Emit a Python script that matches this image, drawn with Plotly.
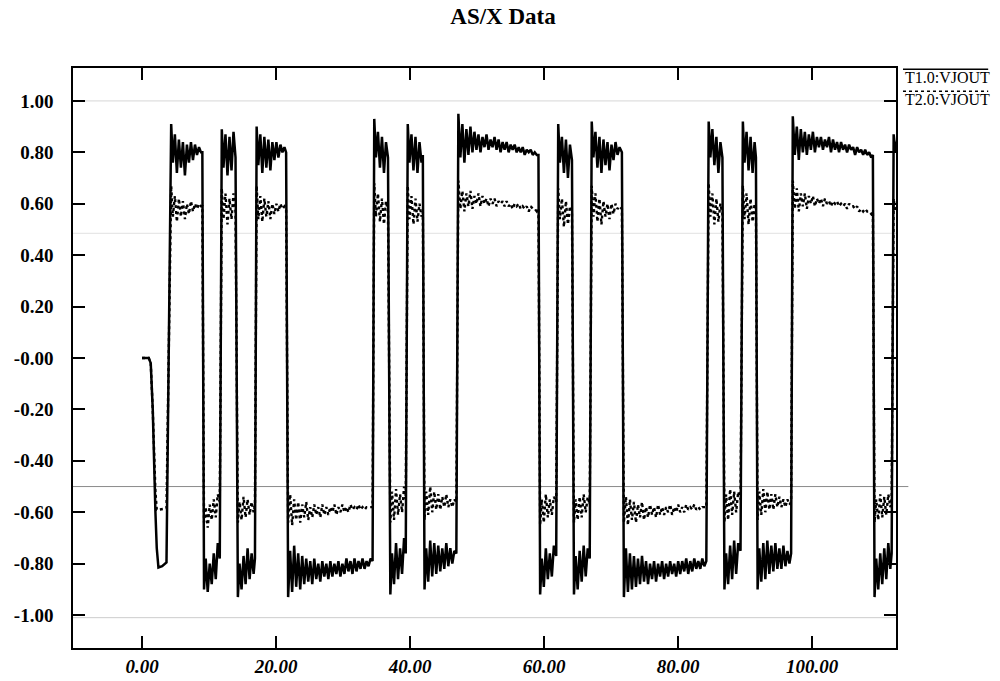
import plotly.graph_objects as go

# ---------------- data ----------------
# time axis (ns-like units) and two waveforms: T1.0:VJOUT (solid), T2.0:VJOUT (dotted)
t = [
    0, 1.0, 1.3, 1.6, 2.0, 2.2, 2.45, 3.0, 3.65,
    4.35, 4.6, 4.9, 5.2, 5.5, 5.8, 6.1, 6.4, 6.7, 7.0, 7.3, 7.6, 7.9, 8.2, 8.5, 8.8, 9.0,
    9.25, 9.5, 9.8, 10.1, 10.4, 10.7, 11.0, 11.3, 11.6,
    11.9, 12.15, 12.45, 12.75, 13.05, 13.35, 13.65, 13.95,
    14.3, 14.55, 14.85, 15.15, 15.45, 15.75, 16.05, 16.35, 16.65, 16.85,
    17.1, 17.35, 17.65, 17.95, 18.25, 18.55, 18.85, 19.15, 19.45, 19.75, 20.05, 20.35, 20.65, 20.95, 21.25, 21.5,
    21.8, 22.1, 22.4, 22.7, 23.0, 23.3, 23.6, 23.9, 24.2, 24.5, 24.8, 25.1, 25.4, 25.7, 26.0, 26.3, 26.6, 26.9,
    27.2, 27.5, 27.8, 28.1, 28.4, 28.7, 29.0, 29.3, 29.6, 29.9, 30.2, 30.5, 30.8, 31.1, 31.4, 31.7, 32.0, 32.3,
    32.6, 32.9, 33.2, 33.5, 33.8, 34.1, 34.4,
    34.65, 34.9, 35.2, 35.5, 35.8, 36.1, 36.4, 36.7,
    37.05, 37.3, 37.6, 37.9, 38.2, 38.5, 38.8, 39.1, 39.35,
    39.65, 39.9, 40.2, 40.5, 40.8, 41.1, 41.4, 41.7, 41.9,
    42.15, 42.4, 42.7, 43.0, 43.3, 43.6, 43.9, 44.2, 44.5, 44.8, 45.1, 45.4, 45.7, 46.0, 46.3, 46.6, 46.9,
    47.2, 47.5, 47.8, 48.1, 48.4, 48.7, 49.0, 49.3, 49.6, 49.9, 50.2, 50.5, 50.8, 51.1, 51.4, 51.7, 52.0, 52.3,
    52.6, 52.9, 53.2, 53.5, 53.8, 54.1, 54.4, 54.7, 55.0, 55.3, 55.6, 55.9, 56.2, 56.5, 56.8, 57.1, 57.4, 57.7,
    58.0, 58.3, 58.6, 58.9, 59.15,
    59.4, 59.65, 59.95, 60.25, 60.55, 60.85, 61.15, 61.45, 61.8,
    62.1, 62.35, 62.65, 62.95, 63.25, 63.55, 63.85, 64.15,
    64.45, 64.7, 65.0, 65.3, 65.6, 65.9, 66.2, 66.5, 66.8,
    67.1, 67.35, 67.65, 67.95, 68.25, 68.55, 68.85, 69.15, 69.45, 69.75, 70.05, 70.35, 70.65, 70.95, 71.25, 71.6,
    71.9, 72.2, 72.5, 72.8, 73.1, 73.4, 73.7, 74.0, 74.3, 74.6, 74.9, 75.2, 75.5, 75.8, 76.1, 76.4, 76.7, 77.0,
    77.3, 77.6, 77.9, 78.2, 78.5, 78.8, 79.1, 79.4, 79.7, 80.0, 80.3, 80.6, 80.9, 81.2, 81.5, 81.8, 82.1, 82.4,
    82.7, 83.0, 83.3, 83.6, 83.9, 84.2,
    84.55, 84.8, 85.1, 85.4, 85.7, 86.0, 86.3, 86.6,
    86.9, 87.15, 87.45, 87.75, 88.05, 88.35, 88.65, 88.95, 89.3,
    89.65, 89.9, 90.2, 90.5, 90.8, 91.1, 91.4, 91.6,
    91.85, 92.1, 92.4, 92.7, 93.0, 93.3, 93.6, 93.9, 94.2, 94.5, 94.8, 95.1, 95.4, 95.7, 96.0, 96.3, 96.6, 96.85,
    97.1, 97.4, 97.7, 98.0, 98.3, 98.6, 98.9, 99.2, 99.5, 99.8, 100.1, 100.4, 100.7, 101.0, 101.3, 101.6, 101.9,
    102.2, 102.5, 102.8, 103.1, 103.4, 103.7, 104.0, 104.3, 104.6, 104.9, 105.2, 105.5, 105.8, 106.1, 106.4,
    106.7, 107.0, 107.3, 107.6, 107.9, 108.2, 108.5, 108.8, 109.05,
    109.3, 109.55, 109.85, 110.15, 110.45, 110.75, 111.05, 111.35, 111.65, 111.85,
    112.15, 112.4, 112.7,
]

t1_vjout = [
    0, 0, -0.02, -0.2, -0.6, -0.74, -0.815, -0.81, -0.795,
    0.91, 0.76, 0.87, 0.72, 0.85, 0.74, 0.84, 0.71, 0.83, 0.76, 0.84, 0.77, 0.83, 0.79, 0.82, 0.80, 0.80,
    -0.90, -0.78, -0.91, -0.80, -0.88, -0.76, -0.86, -0.72, -0.78,
    0.89, 0.74, 0.87, 0.71, 0.86, 0.73, 0.88, 0.78,
    -0.93, -0.80, -0.90, -0.77, -0.88, -0.74, -0.86, -0.76, -0.84, -0.78,
    0.90, 0.75, 0.87, 0.72, 0.86, 0.74, 0.85, 0.73, 0.84, 0.77, 0.84, 0.78, 0.83, 0.80, 0.82, 0.80,
    -0.93, -0.75, -0.91, -0.73, -0.89, -0.76, -0.90, -0.77, -0.88, -0.78, -0.87, -0.79, -0.88, -0.78, -0.86,
    -0.80, -0.87, -0.79, -0.85, -0.80, -0.86, -0.79, -0.85, -0.80, -0.84, -0.79, -0.85, -0.80, -0.84, -0.78,
    -0.83, -0.79, -0.84, -0.78, -0.83, -0.79, -0.82, -0.78, -0.82, -0.79, -0.81, -0.78, -0.79,
    0.93, 0.78, 0.88, 0.74, 0.86, 0.72, 0.84, 0.78,
    -0.92, -0.76, -0.88, -0.72, -0.86, -0.74, -0.84, -0.70, -0.76,
    0.91, 0.76, 0.87, 0.73, 0.86, 0.72, 0.84, 0.76, 0.79,
    -0.90, -0.74, -0.87, -0.71, -0.85, -0.72, -0.84, -0.73, -0.83, -0.74, -0.82, -0.72, -0.81, -0.74, -0.80, -0.75, -0.76,
    0.95, 0.78, 0.91, 0.76, 0.89, 0.79, 0.90, 0.80, 0.88, 0.81, 0.87, 0.80, 0.86, 0.82, 0.87, 0.81, 0.85, 0.82,
    0.86, 0.81, 0.85, 0.80, 0.84, 0.81, 0.84, 0.80, 0.83, 0.81, 0.83, 0.80, 0.82, 0.80, 0.82, 0.79, 0.81, 0.80,
    0.81, 0.79, 0.80, 0.79, 0.79,
    -0.92, -0.78, -0.89, -0.74, -0.86, -0.76, -0.85, -0.73, -0.77,
    0.91, 0.76, 0.86, 0.72, 0.85, 0.70, 0.83, 0.77,
    -0.92, -0.77, -0.90, -0.75, -0.87, -0.73, -0.85, -0.74, -0.78,
    0.92, 0.78, 0.88, 0.74, 0.86, 0.72, 0.85, 0.75, 0.84, 0.73, 0.83, 0.77, 0.84, 0.79, 0.82, 0.80,
    -0.93, -0.74, -0.91, -0.76, -0.90, -0.77, -0.89, -0.78, -0.88, -0.77, -0.87, -0.79, -0.88, -0.80, -0.86,
    -0.79, -0.87, -0.80, -0.85, -0.79, -0.86, -0.80, -0.85, -0.79, -0.84, -0.80, -0.85, -0.79, -0.84, -0.79,
    -0.83, -0.78, -0.84, -0.79, -0.83, -0.78, -0.82, -0.79, -0.82, -0.78, -0.81, -0.79,
    0.92, 0.78, 0.89, 0.75, 0.86, 0.72, 0.84, 0.78,
    -0.90, -0.76, -0.88, -0.73, -0.86, -0.71, -0.84, -0.72, -0.75,
    0.92, 0.76, 0.88, 0.73, 0.86, 0.72, 0.84, 0.78,
    -0.90, -0.74, -0.87, -0.72, -0.86, -0.71, -0.84, -0.73, -0.83, -0.72, -0.82, -0.74, -0.82, -0.73, -0.81, -0.75, -0.80, -0.76,
    0.94, 0.79, 0.90, 0.77, 0.89, 0.80, 0.88, 0.79, 0.87, 0.81, 0.88, 0.80, 0.86, 0.82, 0.86, 0.81, 0.85, 0.82,
    0.86, 0.80, 0.85, 0.81, 0.84, 0.80, 0.84, 0.81, 0.83, 0.80, 0.83, 0.81, 0.82, 0.79, 0.82, 0.80, 0.81, 0.79,
    0.81, 0.79, 0.80, 0.78, 0.79,
    -0.93, -0.78, -0.90, -0.76, -0.88, -0.74, -0.86, -0.72, -0.82, -0.76,
    0.87, 0.80, 0.85,
]

t2_vjout = [
    0, 0, -0.02, -0.2, -0.52, -0.59, -0.59, -0.589, -0.585,
    0.67, 0.55, 0.63, 0.53, 0.62, 0.55, 0.61, 0.54, 0.60, 0.56, 0.61, 0.57, 0.60, 0.58, 0.60, 0.59, 0.59,
    -0.64, -0.58, -0.66, -0.57, -0.63, -0.55, -0.62, -0.53, -0.56,
    0.66, 0.54, 0.64, 0.52, 0.62, 0.54, 0.64, 0.57,
    -0.64, -0.56, -0.63, -0.54, -0.62, -0.55, -0.61, -0.56, -0.60, -0.57,
    0.67, 0.54, 0.63, 0.53, 0.62, 0.55, 0.61, 0.54, 0.60, 0.56, 0.60, 0.57, 0.60, 0.58, 0.59, 0.58,
    -0.64, -0.53, -0.65, -0.55, -0.63, -0.56, -0.64, -0.57, -0.62, -0.56, -0.63, -0.58, -0.62, -0.57, -0.61,
    -0.58, -0.62, -0.57, -0.61, -0.58, -0.61, -0.58, -0.60, -0.57, -0.61, -0.58, -0.60, -0.57, -0.60, -0.58,
    -0.60, -0.57, -0.59, -0.58, -0.59, -0.57, -0.59, -0.58, -0.59, -0.58, -0.58, -0.58, -0.58,
    0.68, 0.55, 0.64, 0.53, 0.62, 0.52, 0.61, 0.57,
    -0.64, -0.52, -0.63, -0.51, -0.61, -0.53, -0.60, -0.50, -0.55,
    0.67, 0.54, 0.63, 0.52, 0.62, 0.53, 0.60, 0.55, 0.57,
    -0.63, -0.52, -0.61, -0.50, -0.60, -0.52, -0.59, -0.53, -0.59, -0.54, -0.58, -0.53, -0.58, -0.55, -0.58, -0.55, -0.56,
    0.69, 0.58, 0.65, 0.57, 0.64, 0.59, 0.65, 0.58, 0.63, 0.60, 0.64, 0.59, 0.63, 0.60, 0.62, 0.59, 0.62, 0.60,
    0.62, 0.59, 0.61, 0.60, 0.61, 0.59, 0.61, 0.59, 0.60, 0.58, 0.60, 0.59, 0.60, 0.58, 0.59, 0.58, 0.59, 0.57,
    0.59, 0.58, 0.58, 0.57, 0.58,
    -0.65, -0.55, -0.64, -0.53, -0.62, -0.55, -0.61, -0.54, -0.56,
    0.66, 0.54, 0.62, 0.51, 0.61, 0.52, 0.59, 0.56,
    -0.64, -0.55, -0.63, -0.54, -0.62, -0.53, -0.60, -0.54, -0.57,
    0.67, 0.55, 0.64, 0.53, 0.62, 0.52, 0.61, 0.55, 0.60, 0.54, 0.60, 0.56, 0.60, 0.58, 0.59, 0.58,
    -0.64, -0.54, -0.65, -0.55, -0.63, -0.56, -0.64, -0.57, -0.62, -0.56, -0.63, -0.58, -0.62, -0.57, -0.61,
    -0.58, -0.62, -0.57, -0.61, -0.58, -0.61, -0.58, -0.60, -0.57, -0.61, -0.58, -0.60, -0.57, -0.60, -0.58,
    -0.60, -0.57, -0.59, -0.58, -0.59, -0.57, -0.59, -0.58, -0.59, -0.58, -0.58, -0.58,
    0.68, 0.55, 0.64, 0.52, 0.62, 0.53, 0.60, 0.56,
    -0.64, -0.53, -0.63, -0.51, -0.61, -0.52, -0.60, -0.52, -0.55,
    0.67, 0.54, 0.64, 0.52, 0.62, 0.53, 0.60, 0.56,
    -0.63, -0.52, -0.61, -0.51, -0.60, -0.52, -0.59, -0.53, -0.59, -0.53, -0.58, -0.54, -0.58, -0.55, -0.58, -0.55, -0.57, -0.56,
    0.69, 0.58, 0.66, 0.57, 0.64, 0.59, 0.64, 0.58, 0.63, 0.60, 0.63, 0.59, 0.62, 0.60, 0.62, 0.59, 0.62, 0.60,
    0.61, 0.59, 0.61, 0.60, 0.61, 0.59, 0.60, 0.59, 0.60, 0.58, 0.60, 0.59, 0.59, 0.58, 0.59, 0.57, 0.58, 0.57,
    0.58, 0.57, 0.57, 0.56, 0.57,
    -0.64, -0.55, -0.63, -0.53, -0.62, -0.54, -0.61, -0.53, -0.58, -0.56,
    0.62, 0.57, 0.60,
]

series_names = ["T1.0:VJOUT", "T2.0:VJOUT"]
x_tick_vals = [0, 20, 40, 60, 80, 100]
x_tick_text = ["0.00", "20.00", "40.00", "60.00", "80.00", "100.00"]
y_tick_vals = [-1.0, -0.8, -0.6, -0.4, -0.2, 0.0, 0.2, 0.4, 0.6, 0.8, 1.0]
y_tick_text = ["-1.00", "-0.80", "-0.60", "-0.40", "-0.20", "-0.00", "0.20", "0.40", "0.60", "0.80", "1.00"]
# faint horizontal lines present on the scanned plot
scan_line_y = [1.0, 0.485, -0.5, -1.01]
scan_line_color = ["#d6d6d6", "#e2e2e2", "#8a8a8a", "#cccccc"]

n = min(len(t), len(t1_vjout), len(t2_vjout))

SERIF = "Liberation Serif, Times New Roman, serif"

fig = go.Figure()
fig.add_trace(go.Scatter(x=t[:n], y=t1_vjout[:n], mode="lines", name=series_names[0],
                         line=dict(color="black", width=2.5), showlegend=False))
fig.add_trace(go.Scatter(x=t[:n], y=t2_vjout[:n], mode="lines", name=series_names[1],
                         line=dict(color="black", width=2.4, dash="dot"), showlegend=False))

shapes = []
for yv, col in zip(scan_line_y, scan_line_color):
    shapes.append(dict(type="line", xref="paper", yref="y", x0=0, x1=1.015 if yv == -0.5 else 1,
                       y0=yv, y1=yv, line=dict(color=col, width=1), layer="below"))

# legend drawn as in the original: a line sample above each name
leg_x0, leg_x1 = 1.0085, 1.112
shapes.append(dict(type="line", xref="paper", yref="paper", x0=leg_x0, x1=leg_x1, y0=0.998, y1=0.998,
                   line=dict(color="black", width=1.5)))
shapes.append(dict(type="line", xref="paper", yref="paper", x0=leg_x0, x1=leg_x1, y0=0.960, y1=0.960,
                   line=dict(color="black", width=1.5, dash="dot")))
annotations = [
    dict(text=series_names[0], xref="paper", yref="paper", x=leg_x0, y=0.984, xanchor="left",
         yanchor="middle", showarrow=False, font=dict(family=SERIF, size=16, color="black")),
    dict(text=series_names[1], xref="paper", yref="paper", x=leg_x0, y=0.946, xanchor="left",
         yanchor="middle", showarrow=False, font=dict(family=SERIF, size=16, color="black")),
]

fig.update_layout(
    width=1000, height=681,
    margin=dict(l=73, r=104, t=68, b=33, autoexpand=False),
    paper_bgcolor="white", plot_bgcolor="white",
    title=dict(text="<b>AS/X Data</b>", x=0.503, xref="container", y=0.976, yref="container",
               xanchor="center", yanchor="middle", font=dict(family=SERIF, size=23, color="black")),
    shapes=shapes, annotations=annotations,
    showlegend=False,
)
fig.update_xaxes(range=[-10.3, 112.5], showgrid=False, zeroline=False, automargin=False,
                 showline=True, linecolor="black", linewidth=1.5, mirror="ticks",
                 ticks="inside", ticklen=12, tickwidth=1.5, tickcolor="black",
                 tickvals=x_tick_vals, ticktext=x_tick_text, ticklabelstandoff=0,
                 tickfont=dict(family=SERIF, size=19, color="black", weight="bold", style="italic"))
fig.update_yaxes(range=[-1.128, 1.128], showgrid=False, zeroline=False, automargin=False,
                 showline=True, linecolor="black", linewidth=1.5, mirror="ticks",
                 ticks="inside", ticklen=12, tickwidth=1.5, tickcolor="black",
                 tickvals=y_tick_vals, ticktext=y_tick_text, ticklabelstandoff=14,
                 tickfont=dict(family=SERIF, size=19, color="black", weight="bold"))

fig.write_html("out.html")
